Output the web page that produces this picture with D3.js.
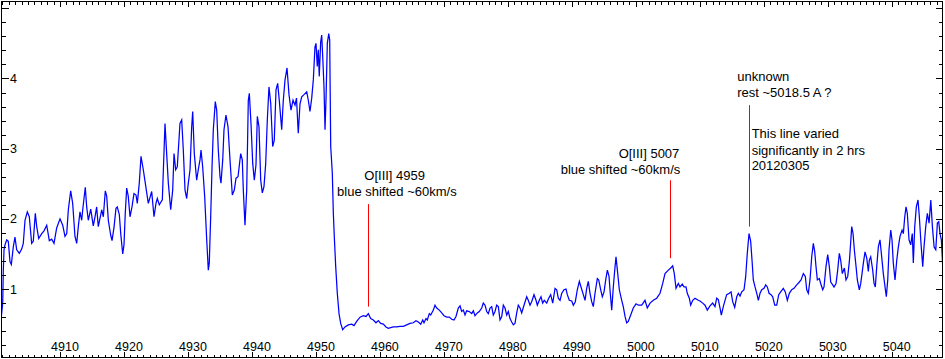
<!DOCTYPE html>
<html><head><meta charset="utf-8">
<script src="https://cdn.jsdelivr.net/npm/d3@7"></script>
<style>
html,body{margin:0;padding:0;background:#fff;}
svg{display:block;}
text{font-family:"Liberation Sans",Arial,sans-serif;fill:#000;}
</style></head>
<body><svg id="c" width="945" height="359"></svg>
<script>
// Wavelength (A) / relative flux
const spectrum = [
[4900.78,0.56],[4901.04,0.80],[4901.14,1.27],[4901.25,1.56],[4901.40,1.63],[4901.67,1.70],[4901.92,1.68],[4902.18,1.39],[4902.39,1.35],[4902.70,1.60],[4902.96,1.74],[4903.23,1.56],[4903.64,1.51],[4904.01,1.57],[4904.26,1.65],[4904.53,1.98],[4904.89,2.10],[4905.20,2.03],[4905.57,1.65],[4905.82,1.68],[4906.14,2.08],[4906.36,1.89],[4906.67,1.72],[4907.14,1.79],[4907.50,1.83],[4907.92,1.91],[4908.33,1.69],[4908.70,1.71],[4909.06,1.65],[4909.48,1.87],[4910.00,2.00],[4910.42,1.91],[4910.78,1.75],[4911.05,1.79],[4911.30,2.13],[4911.67,2.40],[4911.98,2.22],[4912.34,1.75],[4912.61,1.65],[4912.86,1.89],[4913.12,2.10],[4913.39,1.98],[4913.55,2.13],[4913.95,2.45],[4914.17,2.17],[4914.42,1.98],[4914.80,2.14],[4915.20,1.90],[4915.47,2.03],[4915.73,2.17],[4915.98,1.89],[4916.52,2.13],[4916.77,2.03],[4917.08,2.40],[4917.30,2.32],[4917.55,1.98],[4917.92,1.77],[4918.13,1.69],[4918.44,1.88],[4918.75,2.15],[4918.95,2.17],[4919.27,2.06],[4919.49,1.79],[4919.80,1.50],[4920.00,1.63],[4920.20,2.08],[4920.42,2.44],[4920.67,2.32],[4920.94,2.03],[4921.25,2.17],[4921.56,2.36],[4921.88,2.34],[4922.08,2.22],[4922.39,2.51],[4922.66,2.89],[4923.02,2.70],[4923.33,2.51],[4923.80,2.22],[4924.33,2.39],[4924.69,2.03],[4925.00,2.22],[4925.21,2.29],[4925.52,2.20],
[4925.99,2.27],[4926.41,3.36],[4926.67,2.93],[4926.93,2.51],[4927.30,2.13],[4927.61,2.41],[4927.82,2.93],[4928.08,2.70],[4928.33,2.74],[4928.75,3.36],[4929.02,3.41],[4929.27,2.98],[4929.54,2.41],[4929.80,2.29],[4930.05,2.51],[4930.32,2.70],[4930.58,3.31],[4930.74,3.53],[4930.99,2.93],[4931.36,2.55],[4931.61,2.70],[4931.88,2.84],[4932.04,2.98],[4932.30,2.74],[4932.61,2.32],[4932.93,1.70],[4933.18,1.27],[4933.33,1.37],[4933.55,2.03],[4933.76,2.74],[4933.96,3.27],[4934.27,3.67],[4934.49,3.55],[4934.74,2.98],[4935.01,2.60],[4935.16,2.51],[4935.43,2.84],[4935.63,3.27],[4935.94,3.48],[4936.26,3.31],[4936.57,2.84],[4936.93,2.34],[4937.24,2.41],[4937.51,2.58],[4937.82,2.60],
[4938.24,2.93],[4938.49,2.84],[4938.65,2.41],[4938.91,1.91],[4939.18,2.41],[4939.43,3.69],[4939.59,3.79],[4939.85,3.36],[4940.12,2.79],[4940.37,2.55],[4940.63,2.77],[4940.84,3.46],[4941.10,3.31],[4941.37,2.55],[4941.62,2.37],[4941.88,2.46],[4942.15,2.79],[4942.40,3.41],[4942.66,3.88],[4942.93,3.65],[4943.24,3.03],[4943.49,3.12],[4943.76,3.84],[4944.02,3.93],[4944.27,3.69],[4944.65,3.27],[4944.90,3.69],[4945.17,3.98],[4945.48,4.15],[4945.79,3.77],[4946.10,3.55],[4946.42,3.69],[4946.73,3.62],[4946.96,3.72],[4947.24,3.22],
[4947.51,3.64],[4947.78,3.74],[4948.14,3.77],[4948.56,3.81],[4948.81,3.69],[4949.07,3.53],[4949.34,3.72],[4949.59,3.98],[4949.85,4.45],[4950.01,4.50],[4950.21,4.17],[4950.37,4.41],[4950.52,4.03],[4950.74,4.52],[4950.90,4.62],[4951.06,4.31],[4951.26,3.88],[4951.42,3.27],[4951.57,3.69],[4951.78,4.50],[4952.00,4.64],[4952.15,4.55],[4952.31,3.03],[4952.56,2.65],[4952.72,2.08],[4952.87,1.75],[4953.09,1.32],[4953.34,0.94],[4953.61,0.65],[4953.87,0.51],[4954.18,0.42],[4954.54,0.46],
[4955.06,0.49],[4955.59,0.50],[4955.95,0.48],[4956.37,0.54],[4956.89,0.60],[4957.40,0.62],[4957.83,0.61],[4958.19,0.65],[4958.56,0.58],[4958.97,0.56],[4959.39,0.52],[4959.75,0.55],[4960.12,0.51],[4960.53,0.50],[4960.95,0.46],[4961.31,0.44],[4961.69,0.45],[4962.09,0.46],[4962.62,0.46],[4963.14,0.47],[4963.66,0.47],[4964.19,0.49],[4964.70,0.51],[4965.22,0.52],[4965.64,0.55],[4966.00,0.53],[4966.38,0.50],[4966.69,0.56],[4966.89,0.52],[4967.20,0.58],[4967.41,0.56],[4967.72,0.65],[4967.94,0.63],[4968.35,0.70],[4968.61,0.77],[4968.88,0.73],[4969.28,0.70],[4969.66,0.66],[4970.02,0.62],[4970.44,0.60],[4970.85,0.60],[4971.22,0.57],[4971.58,0.56],[4971.89,0.61],[4972.25,0.73],[4972.52,0.76],[4972.78,0.68],[4973.04,0.70],[4973.30,0.63],[4973.56,0.69],[4973.97,0.68],[4974.35,0.65],[4974.60,0.69],[4974.86,0.62],[4975.22,0.66],[4975.53,0.68],[4975.91,0.73],[4976.16,0.80],[4976.43,0.77],[4976.69,0.68],[4976.94,0.65],[4977.21,0.73],[4977.47,0.75],[4977.72,0.63],[4977.99,0.68],[4978.25,0.77],[4978.51,0.75],[4978.77,0.56],[4979.04,0.61],[4979.29,0.77],[4979.55,0.73],[4979.82,0.63],[4980.07,0.68],[4980.33,0.58],[4980.60,0.53],[4980.85,0.49],[4981.11,0.51],[4981.38,0.66],[4981.63,0.77],[4981.90,0.73],[4982.16,0.66],[4982.52,0.77],[4982.94,0.89],[4983.19,0.84],[4983.46,0.77],[4983.72,0.82],[4984.08,0.92],[4984.40,0.84],[4984.60,0.77],[4984.91,0.84],[4985.18,0.89],[4985.44,0.80],[4985.69,0.84],[4986.07,0.80],[4986.38,0.87],[4986.69,0.92],[4987.01,0.80],[4987.37,1.01],[4987.63,0.99],[4987.88,0.87],[4988.15,0.84],[4988.42,0.94],[4988.77,0.99],[4989.09,1.00],[4989.29,0.92],[4989.60,0.84],[4989.98,0.83],[4990.23,0.77],[4990.54,0.82],[4990.85,0.99],[4991.17,1.11],[4991.43,1.03],[4991.79,0.92],[4992.06,0.84],[4992.32,1.01],[4992.57,1.11],[4992.84,0.94],[4993.10,0.82],[4993.35,0.75],[4993.62,0.94],[4993.98,1.15],[4994.20,1.13],[4994.51,0.99],[4994.76,0.89],[4995.03,0.96],[4995.29,1.13],[4995.55,1.27],[4995.81,1.18],[4995.96,0.99],[4996.23,0.70],[4996.48,1.03],[4996.70,1.27],[4996.90,1.46],[4997.17,1.22],[4997.42,0.99],[4997.79,0.84],[4998.04,0.75],[4998.31,0.61],[4998.57,0.52],[4998.82,0.54],[4999.20,0.63],[4999.60,0.73],[5000.03,0.79],[5000.39,0.77],
[5000.92,0.77],[5001.43,0.84],[5001.79,0.73],[5002.22,0.80],[5002.73,0.84],[5003.26,0.87],[5003.78,0.94],[5004.20,1.08],[5004.56,1.22],[5005.08,1.27],[5005.45,1.30],[5005.76,1.33],[5006.01,1.22],[5006.28,1.01],[5006.64,1.08],[5006.90,1.03],[5007.26,1.07],[5007.53,1.03],[5007.84,1.03],[5008.04,0.94],[5008.36,0.87],[5008.57,0.77],[5008.89,0.84],[5009.25,0.87],[5009.76,0.84],
[5010.03,0.83],[5010.45,0.80],[5010.81,0.77],[5011.17,0.70],[5011.59,0.76],[5012.01,0.80],[5012.37,0.75],[5012.64,0.87],[5012.89,0.85],[5013.16,0.73],[5013.36,0.63],[5013.67,0.75],[5013.94,0.84],[5014.20,0.92],[5014.61,0.94],[5014.88,0.96],[5015.14,0.82],[5015.45,0.74],[5015.77,0.89],[5016.02,0.94],[5016.28,0.90],[5016.55,0.96],[5016.91,0.99],[5017.17,1.18],[5017.42,1.51],[5017.69,1.79],[5017.95,1.68],[5018.16,1.41],[5018.36,1.13],[5018.63,1.03],[5018.90,0.94],[5019.15,0.84],[5019.41,0.94],[5019.68,0.99],[5020.03,1.01],[5020.30,1.06],[5020.55,1.03],[5020.82,0.94],[5021.13,0.92],[5021.39,0.89],[5021.71,0.77],[5022.02,0.77],[5022.33,0.92],[5022.64,0.96],[5023.05,1.01],[5023.36,0.96],[5023.68,0.84],[5023.99,0.94],[5024.36,0.99],[5024.72,1.01],[5025.14,1.06],[5025.46,1.09],[5025.82,1.13],[5026.18,1.22],[5026.49,1.18],[5026.71,0.99],[5026.96,0.94],[5027.22,1.13],[5027.49,1.46],[5027.74,1.65],[5027.96,1.53],[5028.16,1.32],[5028.37,1.13],[5028.68,1.15],[5028.89,1.08],[5029.21,0.99],[5029.41,1.03],[5029.72,1.32],[5029.99,1.49],[5030.24,1.32],[5030.46,1.10],[5030.77,1.06],[5030.97,1.03],[5031.29,1.08],[5031.55,1.27],[5031.80,1.51],[5032.02,1.41],[5032.27,1.22],[5032.59,1.30],[5032.85,1.13],[5033.12,1.18],[5033.37,1.39],[5033.59,1.68],[5033.74,1.89],[5033.95,1.79],[5034.15,1.56],[5034.42,1.32],[5034.62,1.13],[5034.93,0.99],[5035.15,1.08],[5035.35,1.22],[5035.56,1.37],[5035.82,1.53],[5036.09,1.44],[5036.34,1.25],[5036.49,1.41],[5036.71,1.46],[5037.02,1.27],[5037.23,1.08],[5037.43,1.03],[5037.65,1.32],[5037.90,1.60],[5038.16,1.70],[5038.37,1.51],[5038.68,1.22],[5038.95,1.03],[5039.15,0.89],[5039.37,1.13],[5039.57,1.56],[5039.84,1.84],[5040.04,1.70],[5040.24,1.37],[5040.51,1.13],[5040.78,1.41],[5041.03,1.60],[5041.29,1.75],[5041.61,1.84],[5041.81,1.79],[5042.03,2.03],[5042.23,2.17],[5042.43,2.08],[5042.70,1.70],[5042.96,1.63],[5043.21,1.79],[5043.37,1.37],[5043.59,1.89],[5043.84,2.17],[5044.10,2.27],[5044.31,2.03],[5044.57,1.65],[5044.84,1.32],[5045.04,1.60],[5045.31,1.89],[5045.56,2.08],[5045.83,1.94],[5046.10,2.27],[5046.35,1.89],[5046.62,1.60],[5046.88,1.56],[5047.13,1.94],[5047.34,1.96],[5047.54,1.79],[5047.75,1.70],[5047.97,1.32],[5048.17,1.46]
];

const xMajorTicks = [4910,4920,4930,4940,4950,4960,4970,4980,4990,5000,5010,5020,5030,5040];
const yMajorTicks = [1,2,3,4,5];
const yLabelTicks = [1,2,3,4];

// Marker lines: wavelength, flux from, flux to
const markers = [
  {wl:4958.09, from:0.75, to:2.21},
  {wl:5005.39, from:1.44, to:2.55},
  {wl:5017.74, from:1.89, to:3.62}
];
// Annotation text lines: wavelength of anchor, flux at baseline, text
const notes = [
  {wl:4957.56, v:2.56, text:"O[III] 4959"},
  {wl:4953.30, v:2.32, text:"blue shifted ~60km/s"},
  {wl:4997.31, v:2.87, text:"O[III] 5007"},
  {wl:4988.25, v:2.64, text:"blue shifted ~60km/s"},
  {wl:5015.85, v:3.96, text:"unknown"},
  {wl:5015.85, v:3.73, text:"rest ~5018.5 A ?"},
  {wl:5018.10, v:3.15, text:"This line varied"},
  {wl:5018.10, v:2.91, text:"significantly in 2 hrs"},
  {wl:5018.10, v:2.69, text:"20120305"}
];

const svg = d3.select("#c");
const L = 1.5, R = 942.5, T = 1.5, B = 357.5;
const x = d3.scaleLinear().domain([4900.855, 5047.93]).range([L, R]);
const y = d3.scaleLinear().domain([0.025, 5.097]).range([B, T]);

svg.append("defs").append("clipPath").attr("id","clip")
  .append("rect").attr("x",L).attr("y",T).attr("width",R-L).attr("height",B-T);

// spectrum line
svg.append("path").datum(spectrum)
  .attr("clip-path","url(#clip)")
  .attr("fill","none").attr("stroke","#0000ff").attr("stroke-width",1.25)
  .attr("stroke-linejoin","miter")
  .attr("d", d3.line().x(d=>x(d[0])).y(d=>y(d[1])));

// markers
svg.selectAll("line.mk").data(markers).enter().append("line")
  .attr("class","mk")
  .attr("x1", d=>Math.round(x(d.wl))+0.5).attr("x2", d=>Math.round(x(d.wl))+0.5)
  .attr("y1", d=>y(d.from)).attr("y2", d=>y(d.to))
  .attr("stroke","#ff0000").attr("stroke-width",1);

// notes
svg.selectAll("text.nt").data(notes).enter().append("text")
  .attr("class","nt")
  .attr("x", d=>x(d.wl)).attr("y", d=>y(d.v))
  .attr("font-size","13px")
  .text(d=>d.text);

const minorX = d3.range(4901, 5048, 1);
const minorY = d3.range(1, 26).map(i=>+(i*0.2).toFixed(1));

function styleAxis(g){
  g.select(".domain").remove();
  g.selectAll("line").attr("stroke","#000").attr("shape-rendering","crispEdges");
  g.selectAll("text").attr("font-family","'Liberation Sans',Arial,sans-serif").attr("font-size","12.5px").attr("fill","#000");
}

// bottom axis (ticks inward)
svg.append("g").attr("transform",`translate(0,${B})`)
  .call(d3.axisTop(x).tickValues(minorX).tickSize(3).tickFormat("")).call(styleAxis);
svg.append("g").attr("transform",`translate(0,${B})`)
  .call(d3.axisTop(x).tickValues(xMajorTicks).tickSize(6).tickPadding(0.5).tickFormat(d3.format("d")))
  .call(styleAxis)
  .call(g=>g.selectAll("text").attr("dx",4.5));
// top axis
svg.append("g").attr("transform",`translate(0,${T})`)
  .call(d3.axisBottom(x).tickValues(minorX).tickSize(3).tickFormat("")).call(styleAxis);
svg.append("g").attr("transform",`translate(0,${T})`)
  .call(d3.axisBottom(x).tickValues(xMajorTicks).tickSize(5).tickFormat("")).call(styleAxis);
// left axis
svg.append("g").attr("transform",`translate(${L},0)`)
  .call(d3.axisRight(y).tickValues(minorY).tickSize(4).tickFormat("")).call(styleAxis);
svg.append("g").attr("transform",`translate(${L},0)`)
  .call(d3.axisRight(y).tickValues(yMajorTicks).tickSize(7).tickFormat(d=>yLabelTicks.includes(d)?d:""))
  .call(styleAxis)
  .call(g=>g.selectAll("text").attr("x",15.5).attr("text-anchor","end"));
// right axis
svg.append("g").attr("transform",`translate(${R},0)`)
  .call(d3.axisLeft(y).tickValues(minorY).tickSize(4).tickFormat("")).call(styleAxis);
svg.append("g").attr("transform",`translate(${R},0)`)
  .call(d3.axisLeft(y).tickValues(yMajorTicks).tickSize(7).tickFormat("")).call(styleAxis);

// frame
svg.append("rect").attr("x",L).attr("y",T-0.5).attr("width",R-L).attr("height",B-T+0.5)
  .attr("fill","none").attr("stroke","#000").attr("stroke-width",1).attr("shape-rendering","crispEdges");
</script></body></html>
